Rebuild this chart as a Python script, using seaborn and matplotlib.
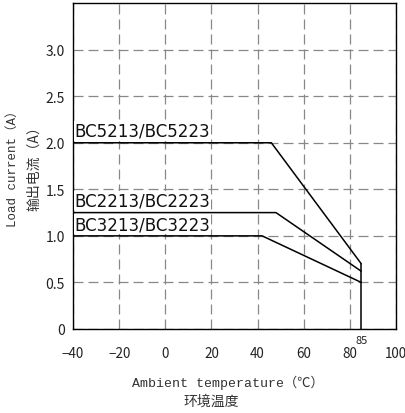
import matplotlib
matplotlib.use("Agg")
import matplotlib.pyplot as plt
import seaborn as sns
import pandas as pd

# derating curves: (temperature, current)
models = ["BC5213/BC5223", "BC2213/BC2223", "BC3213/BC3223"]
temp_5213 = [-40, 46, 85]
curr_5213 = [2.0, 2.0, 0.70]
temp_2213 = [-40, 48, 85]
curr_2213 = [1.25, 1.25, 0.62]
temp_3213 = [-40, 42, 85]
curr_3213 = [1.0, 1.0, 0.5]
cutoff_temp = [85, 85]
cutoff_curr = [0, 0.70]

x_ticks = [-40, -20, 0, 20, 40, 60, 80, 100]
y_ticks = [0, 0.5, 1.0, 1.5, 2.0, 2.5, 3.0]
y_tick_labels = ["0", "0.5", "1.0", "1.5", "2.0", "2.5", "3.0"]

sns.set_style("white")
plt.rcParams["font.family"] = ["DejaVu Sans", "Noto Sans CJK SC"]

df = pd.concat([
    pd.DataFrame({"temp": temp_5213, "curr": curr_5213, "model": models[0]}),
    pd.DataFrame({"temp": temp_2213, "curr": curr_2213, "model": models[1]}),
    pd.DataFrame({"temp": temp_3213, "curr": curr_3213, "model": models[2]}),
])

fig = plt.figure(figsize=(4.06, 4.14), dpi=100)
ax = fig.add_axes([0.18, 0.203, 0.795, 0.787])

sns.lineplot(data=df, x="temp", y="curr", hue="model", units="model",
             estimator=None, palette=["black"] * 3, legend=False, lw=1.1,
             ax=ax, zorder=3, sort=False)
ax.plot(cutoff_temp, cutoff_curr, color="black", lw=1.1, zorder=3)

ax.set_xlim(-40, 100)
ax.set_ylim(0, 3.5)
ax.set_xticks(x_ticks)
ax.set_yticks(y_ticks)
ax.set_yticklabels(y_tick_labels)
ax.tick_params(length=0, labelsize=10, colors="#222222")
ax.tick_params(axis="x", pad=12, labelsize=9.7)
ax.tick_params(axis="y", pad=6)
for lab in ax.get_xticklabels() + ax.get_yticklabels():
    lab.set_family(["Noto Sans CJK SC"])
ax.grid(True, ls=(0, (8, 4)), color="#888888", lw=0.9)
for s in ax.spines.values():
    s.set_color("black")
    s.set_linewidth(1.0)

label_y = [2.0, 1.25, 1.0]
for name, yv in zip(models, label_y):
    ax.text(-39.5, yv + 0.03, name, fontsize=12, color="#111111",
            va="bottom", ha="left", zorder=4,
            bbox=dict(facecolor="white", edgecolor="none", pad=0.5))

ax.text(85, -0.06, "85", fontsize=8, ha="center", va="top", color="#222222",
        family=["Noto Sans CJK SC"])

ax.set_xlabel("")
ax.set_ylabel("")
mono = ["Liberation Mono", "Noto Sans CJK SC"]
fig.text(0.562, 0.075, "Ambient temperature（℃）", ha="center", va="center",
         fontsize=9.5, family=mono, color="#333333")
fig.text(0.52, 0.029, "环境温度", ha="center", va="center",
         fontsize=10, family=["Noto Sans CJK SC"], color="#333333")
fig.text(0.032, 0.6, "Load current（A）", ha="center", va="center", rotation=90,
         fontsize=9, family=mono, color="#333333")
fig.text(0.085, 0.6, "输出电流（A）", ha="center", va="center", rotation=90,
         fontsize=10, family=["Noto Sans CJK SC"], color="#333333")

fig.savefig("out.png", dpi=100)
